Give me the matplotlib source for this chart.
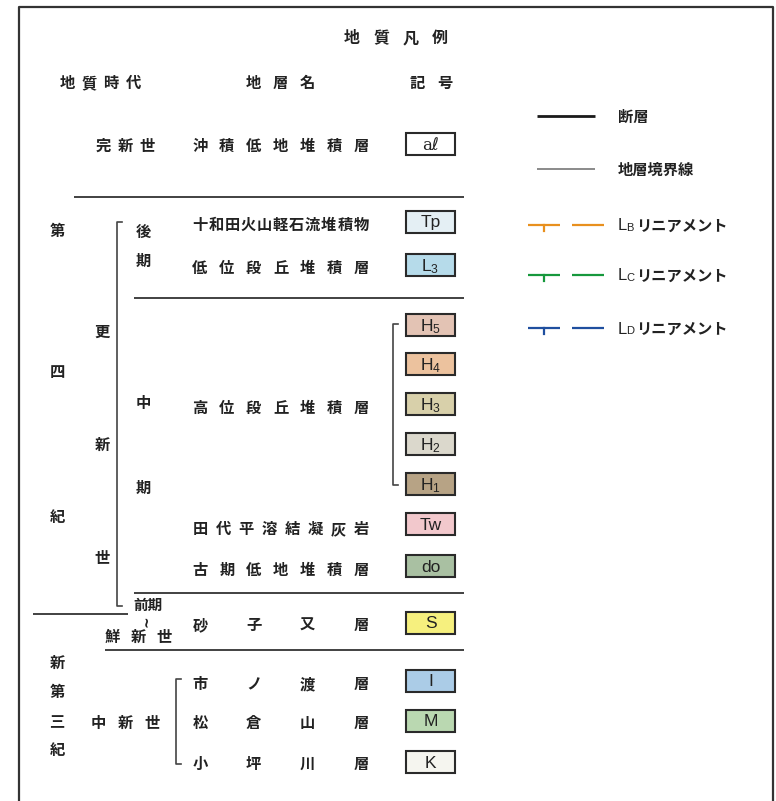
import matplotlib.pyplot as plt
from matplotlib.patches import Rectangle

plt.rcParams['font.family'] = ['Noto Sans CJK JP', 'DejaVu Sans']
plt.rcParams['mathtext.fontset'] = 'custom'
plt.rcParams['mathtext.rm'] = 'Liberation Sans'
plt.rcParams['mathtext.it'] = 'Liberation Sans'

# --- legend content ---
title = '地質凡例'
headers = ['地質時代', '地層名', '記号']

names = ['沖積低地堆積層', '十和田火山軽石流堆積物', '低位段丘堆積層', '高位段丘堆積層',
         '田代平溶結凝灰岩', '古期低地堆積層', '砂子又層', '市ノ渡層', '松倉山層', '小坪川層']
symbols = ['aℓ', 'Tp', 'L_3', 'H_5', 'H_4', 'H_3', 'H_2', 'H_1', 'Tw', 'do', 'S', 'I', 'M', 'K']
symbol_colors = ['#ffffff', '#e4eff4', '#b6dbea', '#e3c3b4', '#ecc29e', '#d8d0aa', '#dbd8cc',
                 '#b7a385', '#f2c8cc', '#a9c0a2', '#f6f07e', '#abcce7', '#bad8b1', '#f5f5ef']

line_labels = ['断層', '地層境界線']
line_colors = ['#1a1a1a', '#8a8a8a']
lineament_subs = ['B', 'C', 'D']
lineament_colors = ['#e8901e', '#16983c', '#1f4f9f']

# --- layout (pixel-like coordinates) ---
name_y = [146, 225, 268, 408, 529, 570, 625, 684, 723, 764]
symbol_y = [144, 222, 265, 325, 364, 404, 444, 484, 524, 566, 623, 681, 721, 762]
line_y = [116, 169]
lineament_y = [225, 275, 328]

ink = '#222222'
FS = 11

fig = plt.figure(figsize=(7.76, 8.01), dpi=100)
ax = fig.add_axes([0, 0, 1, 1])
ax.set_xlim(0, 776)
ax.set_ylim(801, 0)
ax.axis('off')


def spread(text, x0, x1, y, size=FS):
    n = len(text)
    for i, ch in enumerate(text):
        x = x0 if n == 1 else x0 + (x1 - x0) * i / (n - 1)
        ax.text(x, y, ch, ha='center', va='center', fontsize=size,
                fontweight='bold', color=ink)


def put(x, y, s, ha='center', size=FS, **kw):
    ax.text(x, y, s, ha=ha, va='center', fontsize=size, fontweight='bold',
            color=ink, **kw)


def hline(x0, x1, y, lw=1.3, color='#333333'):
    ax.plot([x0, x1], [y, y], color=color, lw=lw, solid_capstyle='butt')


def bracket(x, y0, y1, tick=5):
    ax.plot([x + tick, x, x, x + tick], [y0, y0, y1, y1], color='#444444', lw=1.2)


# outer frame (no bottom edge visible)
ax.plot([19, 19, 773, 773], [801, 7, 7, 801], color='#333333', lw=1.6)

# title and headers
spread(title, 352, 440, 38, size=11.5)
spread(headers[0], 67, 133, 83)
spread(headers[1], 253, 307, 83)
spread(headers[2], 417, 445, 83)

# geological periods
spread('完新世', 103, 147, 146)
for ch, y in zip('第四紀', [231, 372, 517]):
    put(57, y, ch)
for ch, y in zip('更新世', [332, 445, 558]):
    put(102, y, ch)
put(143, 232, '後')
put(143, 261, '期')
put(143, 403, '中')
put(143, 488, '期')
put(148, 605, '前期', size=10.5)
put(147, 621, '~', size=10, rotation=90, family='DejaVu Sans')
spread('鮮新世', 112, 164, 637)
for ch, y in zip('新第三紀', [663, 692, 722, 750]):
    put(57, y, ch)
spread('中新世', 98, 152, 723)

# separators
hline(74, 464, 197)
hline(134, 464, 298)
hline(134, 464, 593)
hline(33, 128, 614)
hline(105, 464, 650)

# brackets
bracket(117, 222, 606)
bracket(393, 324, 485)
bracket(176, 679, 764)

# formation names
for name, y in zip(names, name_y):
    spread(name, 200, 361, y)

# symbol boxes
for sym, col, y in zip(symbols, symbol_colors, symbol_y):
    ax.add_patch(Rectangle((406, y - 11), 49, 22, facecolor=col,
                           edgecolor='#2a2a2a', lw=1.5))
    if sym == 'aℓ':
        ax.text(430.5, y + 1, sym, ha='center', va='center', fontsize=12,
                family=['DejaVu Serif', 'DejaVu Sans', 'Noto Sans CJK JP'], color=ink)
    elif '_' in sym:
        ax.text(430.5, y + 1.5, '$\\mathrm{' + sym + '}$', ha='center', va='center',
                fontsize=12.5, color=ink)
    else:
        ax.text(430.5, y + 1, sym, ha='center', va='center', fontsize=12.5,
                family='Liberation Sans', color=ink)

# right-hand line legend
for lab, col, y, lw in zip(line_labels, line_colors, line_y, [2.0, 1.4]):
    hline(537, 595, y, lw=lw, color=col)
    put(618, y + 1, lab, ha='left')

for sub, col, y in zip(lineament_subs, lineament_colors, lineament_y):
    hline(528, 560, y, lw=1.6, color=col)
    ax.plot([544, 544], [y, y + 6], color=col, lw=1.6)
    hline(572, 604, y, lw=1.6, color=col)
    ax.text(618, y + 1, 'L', ha='left', va='center', fontsize=12,
            family='Liberation Sans', color=ink)
    ax.text(626.5, y + 3, sub, ha='left', va='center', fontsize=8,
            family='Liberation Sans', color=ink)
    put(636, y + 1, 'リニアメント', ha='left')

fig.savefig('out.png', dpi=100, facecolor='white')
